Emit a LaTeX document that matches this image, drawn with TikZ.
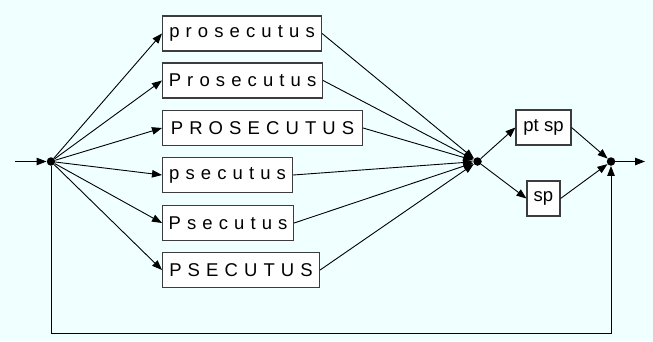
\documentclass[tikz,border=0pt]{standalone}
\usepackage{fontspec}
\setmainfont{Liberation Sans}
\newfontfamily\spacedfont[LetterSpace=33]{Liberation Sans}
\usetikzlibrary{arrows.meta}
\definecolor{bgcol}{RGB}{240,255,255}
\definecolor{boxline}{RGB}{60,60,60}
\tikzset{
  box/.style={draw=boxline, line width=1.1pt, fill=white, minimum height=35pt, inner sep=0pt, font=\fontsize{18.5}{20}\selectfont},
  wordbox/.style={box, anchor=west, font=\fontsize{18.5}{20}\spacedfont},
  dot/.style={circle, fill=black, inner sep=0pt, minimum size=8.5pt},
  arr/.style={-{Triangle[length=10pt,width=7.5pt]}, line width=0.9pt},
  ln/.style={line width=0.9pt}
}
\begin{document}
\begin{tikzpicture}[x=1pt,y=-1pt]
\fill[bgcol] (0,0) rectangle (653,341);
\useasboundingbox (0,0) rectangle (653,341);
\node[dot] (d1) at (51,161.5) {};
\node[dot] (d2) at (477.5,161.5) {};
\node[dot] (d3) at (611,161.5) {};
\coordinate (in) at (15,161.5);
\coordinate (out) at (645,161.5);
\coordinate (fb) at (330,333.5);
\node[wordbox, minimum width=159pt] (b1) at (162,33.5) {prosecutus};
\node[wordbox, minimum width=160pt] (b2) at (162,80.5) {Prosecutus};
\node[wordbox, minimum width=200pt] (b3) at (162,128) {PROSECUTUS};
\node[wordbox, minimum width=130pt] (b4) at (162,175) {psecutus};
\node[wordbox, minimum width=131pt] (b5) at (162,223) {Psecutus};
\node[wordbox, minimum width=157pt] (b6) at (162,270) {PSECUTUS};
\node[box, minimum width=55pt] (p1) at (543.5,127.5) {pt sp};
\node[box, minimum width=33pt] (p2) at (543.5,198.5) {sp};
\draw[arr] (in) -- (d1);
\foreach \b in {b1,b2,b3,b4,b5,b6}{
  \draw[arr] (d1) -- (\b.west);
  \draw[arr] (\b.east) -- (d2);
}
\draw[arr] (d2) -- (p1.west);
\draw[arr] (d2) -- (p2.west);
\draw[arr] (p1.east) -- (d3);
\draw[arr] (p2.east) -- (d3);
\draw[arr] (d3) -- (out);
\draw[arr] (d1) |- (fb) -| (d3);
\end{tikzpicture}
\end{document}
